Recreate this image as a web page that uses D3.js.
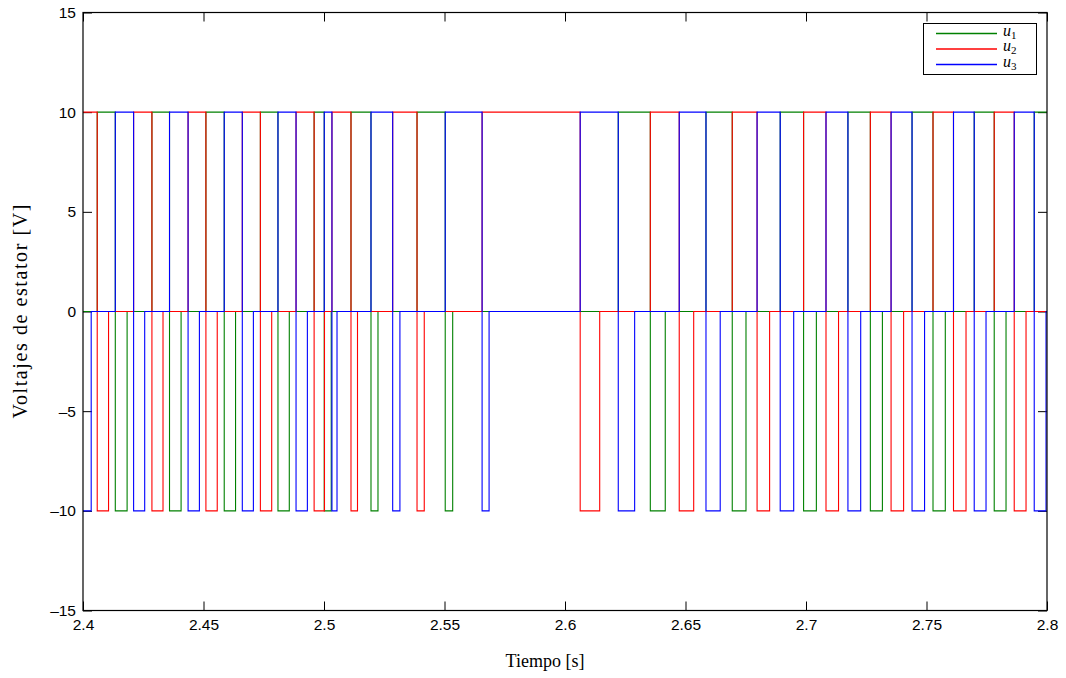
<!DOCTYPE html>
<html><head><meta charset="utf-8">
<script src="https://cdn.jsdelivr.net/npm/d3@7"></script>
<style>body{margin:0;background:#fff}</style>
</head><body><svg id="chart" width="1066" height="678"></svg>
<script>
// Axis ticks
const xTicks = [2.4, 2.45, 2.5, 2.55, 2.6, 2.65, 2.7, 2.75, 2.8];
const yTicks = [-15, -10, -5, 0, 5, 10, 15];

// Stator voltages: each pair is [time (s), value (V)] held until the next switching instant
const u1Steps = [[2.4,0],[2.4059,10],[2.4134,-10],[2.4183,0],[2.4286,10],[2.4359,-10],[2.4407,0],[2.4510,10],[2.4586,-10],[2.4633,0],[2.4736,10],[2.4809,-10],[2.4856,0],[2.4959,10],[2.5001,-10],[2.5030,0],[2.5112,10],[2.5195,-10],[2.5224,0],[2.5386,10],[2.5503,-10],[2.5534,0],[2.6221,10],[2.6354,-10],[2.6416,0],[2.6585,10],[2.6694,-10],[2.6751,0],[2.6893,10],[2.6990,-10],[2.7043,0],[2.7174,10],[2.7267,-10],[2.7317,0],[2.7440,10],[2.7527,-10],[2.7578,0],[2.7698,10],[2.7781,-10],[2.7830,0],[2.7947,10]];
const u2Steps = [[2.4,10],[2.4059,-10],[2.4106,0],[2.4210,10],[2.4286,-10],[2.4332,0],[2.4436,10],[2.4510,-10],[2.4557,0],[2.4661,10],[2.4736,-10],[2.4783,0],[2.4884,10],[2.4959,-10],[2.5002,0],[2.5033,10],[2.5112,-10],[2.5139,0],[2.5285,10],[2.5386,-10],[2.5416,0],[2.5656,10],[2.6063,-10],[2.6144,0],[2.6354,10],[2.6474,-10],[2.6534,0],[2.6694,10],[2.6797,-10],[2.6849,0],[2.6990,10],[2.7083,-10],[2.7135,0],[2.7267,10],[2.7353,-10],[2.7405,0],[2.7527,10],[2.7612,-10],[2.7664,0],[2.7781,10],[2.7864,-10],[2.7913,0]];
const u3Steps = [[2.4,-10],[2.4034,0],[2.4134,10],[2.4210,-10],[2.4256,0],[2.4359,10],[2.4436,-10],[2.4483,0],[2.4586,10],[2.4661,-10],[2.4707,0],[2.4809,10],[2.4884,-10],[2.4931,0],[2.5001,10],[2.5033,-10],[2.5054,0],[2.5195,10],[2.5285,-10],[2.5315,0],[2.5503,10],[2.5656,-10],[2.5685,0],[2.6063,10],[2.6221,-10],[2.6289,0],[2.6474,10],[2.6585,-10],[2.6644,0],[2.6797,10],[2.6893,-10],[2.6949,0],[2.7083,10],[2.7174,-10],[2.7227,0],[2.7353,10],[2.7440,-10],[2.7492,0],[2.7612,10],[2.7698,-10],[2.7747,0],[2.7864,10],[2.7947,-10],[2.7996,0]];

const seriesNames = ["1", "2", "3"];
const seriesColors = ["#008000", "#ff0000", "#0000ff"];
const seriesData = [u1Steps, u2Steps, u3Steps];

const svg = d3.select("#chart");
const L = 83, T = 12.5, W = 964, H = 598;
const tEnd = 2.8;

const x = d3.scaleLinear().domain([2.4, 2.8]).range([L, L + W]);
const y = d3.scaleLinear().domain([-15, 15]).range([T + H, T]);

const tickFont = "Liberation Sans, Arial, sans-serif";
const serif = "Liberation Serif, DejaVu Serif, serif";
const tickLen = 9;

// Axes with inward ticks on all four sides
const fmtX = d => String(d);
const fmtY = d => d < 0 ? "\u2013" + Math.abs(d) : String(d);

const gB = svg.append("g").attr("transform", `translate(0,${T + H})`)
  .call(d3.axisBottom(x).tickValues(xTicks).tickFormat(fmtX).tickSizeInner(-tickLen).tickSizeOuter(0).tickPadding(8));
const gT = svg.append("g").attr("transform", `translate(0,${T})`)
  .call(d3.axisTop(x).tickValues(xTicks).tickFormat("").tickSizeInner(-tickLen).tickSizeOuter(0));
const gL = svg.append("g").attr("transform", `translate(${L},0)`)
  .call(d3.axisLeft(y).tickValues(yTicks).tickFormat(fmtY).tickSizeInner(-tickLen).tickSizeOuter(0).tickPadding(7));
const gR = svg.append("g").attr("transform", `translate(${L + W},0)`)
  .call(d3.axisRight(y).tickValues(yTicks).tickFormat("").tickSizeInner(-tickLen).tickSizeOuter(0));

[gB, gT, gL, gR].forEach(g => {
  g.select(".domain").remove();
  g.selectAll("line").attr("stroke", "#000").attr("stroke-width", 1);
  g.selectAll("text").attr("fill", "#000").style("font-family", tickFont).style("font-size", "15.5px");
});

// Voltage traces
const line = d3.line().x(d => x(d[0])).y(d => y(d[1])).curve(d3.curveStepAfter);
seriesData.forEach((steps, i) => {
  const pts = steps.concat([[tEnd, steps[steps.length - 1][1]]]);
  svg.append("path").datum(pts)
    .attr("d", line)
    .attr("fill", "none")
    .attr("stroke", seriesColors[i])
    .attr("stroke-width", 1.1);
});

// Frame
svg.append("rect").attr("x", L).attr("y", T).attr("width", W).attr("height", H)
  .attr("fill", "none").attr("stroke", "#000").attr("stroke-width", 1.2);

// Axis titles
svg.append("text").attr("x", 545).attr("y", 667).attr("text-anchor", "middle")
  .style("font-family", serif).style("font-size", "18px")
  .text("Tiempo [s]");
svg.append("text").attr("transform", `translate(27,${T + H / 2}) rotate(-90)`).attr("text-anchor", "middle")
  .attr("textLength", 214).attr("lengthAdjust", "spacing")
  .style("font-family", serif).style("font-size", "20px")
  .text("Voltajes de estator [V]");

// Legend
const lg = svg.append("g");
lg.append("rect").attr("x", 923.5).attr("y", 23.5).attr("width", 113).attr("height", 51)
  .attr("fill", "#fff").attr("stroke", "#000").attr("stroke-width", 1);
seriesNames.forEach((n, i) => {
  const ly = [33.5, 49, 64.5][i];
  lg.append("line").attr("x1", 936).attr("x2", 997).attr("y1", ly).attr("y2", ly)
    .attr("stroke", seriesColors[i]).attr("stroke-width", 1.4);
  const t = lg.append("text").attr("x", 1003).attr("y", ly + 2)
    .style("font-family", serif).style("font-size", "16px");
  t.append("tspan").style("font-style", "italic").text("u");
  t.append("tspan").attr("dy", 3).style("font-size", "11px").text(n);
});
</script>
</body></html>
